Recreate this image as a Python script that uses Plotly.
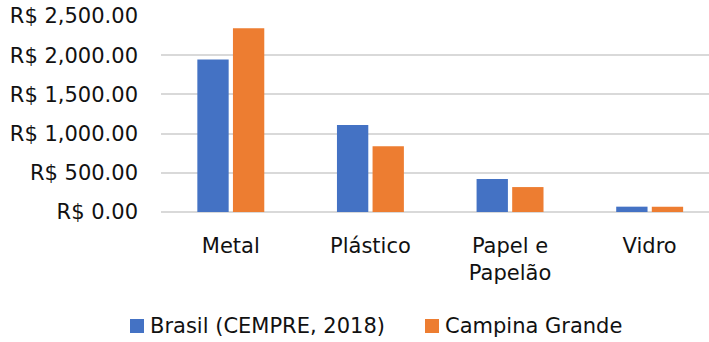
import plotly.graph_objects as go

# Average price per tonne of recyclable material
categories = ["Metal", "Plástico", "Papel e<br>Papelão", "Vidro"]
series_names = ["Brasil (CEMPRE, 2018)", "Campina Grande"]
brasil_cempre_2018 = [1945, 1110, 420, 68]
campina_grande = [2345, 840, 318, 68]
y_ticks = [0, 500, 1000, 1500, 2000, 2500]
y_ticktext = [f"R$ {v:,.2f}" for v in y_ticks]

FONT = "DejaVu Sans"
TEXT = "#111111"
GRID = "#d9d9d9"
COLORS = ["#4472C4", "#ED7D31"]

# plot area in pixels, used to place the hand-built legend
L, R, T, B = 161, 0, 16, 130
W, H = 709, 342
PW, PH = W - L - R, H - T - B


def px_x(x):
    return (x - L) / PW


def px_y(y):
    return (H - B - y) / PH


fig = go.Figure()
for name, vals, col in zip(series_names, [brasil_cempre_2018, campina_grande], COLORS):
    fig.add_trace(go.Bar(name=name, x=categories, y=vals,
                         marker=dict(color=col, line=dict(width=0))))

# legend: colour square followed by its label
legend_sq_x = [130, 425]
for name, col, sx in zip(series_names, COLORS, legend_sq_x):
    fig.add_shape(type="rect", xref="paper", yref="paper",
                  x0=px_x(sx), x1=px_x(sx + 14), y0=px_y(333), y1=px_y(319),
                  fillcolor=col, line=dict(width=0))
    fig.add_annotation(text=name, xref="paper", yref="paper",
                       x=px_x(sx + 18), y=px_y(326), xanchor="left", yanchor="middle",
                       showarrow=False, font=dict(family=FONT, size=21, color=TEXT))

fig.update_layout(
    width=W, height=H,
    margin=dict(l=L, r=R, t=T, b=B),
    paper_bgcolor="white", plot_bgcolor="white",
    barmode="group", bargap=0.49, bargroupgap=0.12,
    font=dict(family=FONT, size=21, color=TEXT),
    showlegend=False,
)
fig.update_xaxes(
    range=[-0.5, 3.425], showgrid=False, zeroline=False, showline=False,
    ticks="", ticklabelstandoff=19, tickfont=dict(size=21),
)
fig.update_yaxes(
    range=[0, 2500], tickvals=y_ticks, ticktext=y_ticktext,
    showgrid=True, gridcolor=GRID, gridwidth=2,
    zeroline=True, zerolinecolor=GRID, zerolinewidth=2,
    showline=False, ticks="", ticklabelstandoff=22, tickfont=dict(size=21),
)

fig.write_html("out.html")
